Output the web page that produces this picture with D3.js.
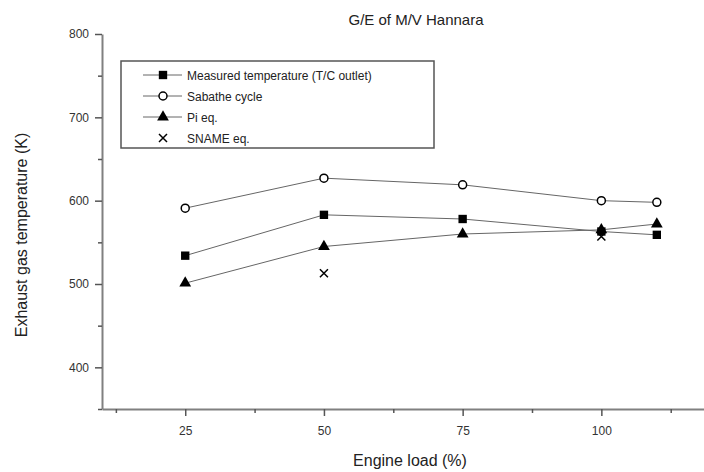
<!DOCTYPE html>
<html>
<head>
<meta charset="utf-8">
<script src="https://cdn.jsdelivr.net/npm/d3@7"></script>
<style>
  html, body { margin: 0; padding: 0; background: #fff; }
  svg { display: block; font-family: "Liberation Sans", Arial, sans-serif; }
</style>
</head>
<body>
<svg id="chart" width="704" height="472"></svg>
<script>
// Engine load (%) at which each method was evaluated
const loads = [25, 50, 75, 100, 110];
// Exhaust gas temperature (K)
const measured = [534, 583, 578, 563, 559];
const sabathe  = [591, 627, 619, 600, 598];
const piEq     = [501, 545, 560, 565, 572];
// SNAME eq. available at two loads only
const snameLoads = [50, 100];
const sname      = [513, 557];

const xMajorTicks = [25, 50, 75, 100];
const xMinorTicks = [12.5, 37.5, 62.5, 87.5, 112.5];
const yMajorTicks = [400, 500, 600, 700, 800];
const yMinorTicks = [350, 450, 550, 650, 750];

const svg = d3.select("#chart");
const x = d3.scaleLinear().domain([10, 118.5]).range([102, 704]);
const y = d3.scaleLinear().domain([350, 800]).range([409, 34]);

const axisColor = "#808080";

// Title
svg.append("text").attr("x", 416).attr("y", 25).attr("text-anchor", "middle")
  .attr("font-size", 15).attr("fill", "#222").text("G/E of M/V Hannara");

// X axis
const gx = svg.append("g").attr("transform", `translate(0,${y(350)})`);
gx.call(d3.axisBottom(x).tickValues(xMajorTicks).tickSize(7).tickPadding(10).tickSizeOuter(0));
gx.append("g").call(d3.axisBottom(x).tickValues(xMinorTicks).tickSize(4).tickFormat("").tickSizeOuter(0));
gx.selectAll(".domain").attr("stroke", axisColor).attr("stroke-width", 2);
gx.selectAll("g .domain").filter((d, i, n) => n[i].parentNode !== gx.node()).remove();
gx.selectAll(".tick line").attr("stroke", "#555").attr("stroke-width", 1.5);
gx.selectAll(".tick text").attr("font-size", 12).attr("fill", "#333")
  .attr("font-family", "\"Liberation Sans\", Arial, sans-serif");

// Y axis
const gy = svg.append("g").attr("transform", `translate(${x(10)},0)`);
gy.call(d3.axisLeft(y).tickValues(yMajorTicks).tickSize(7).tickPadding(6).tickSizeOuter(0));
gy.append("g").call(d3.axisLeft(y).tickValues(yMinorTicks).tickSize(4).tickFormat("").tickSizeOuter(0));
gy.selectAll(".domain").attr("stroke", axisColor).attr("stroke-width", 2);
gy.selectAll("g .domain").filter((d, i, n) => n[i].parentNode !== gy.node()).remove();
gy.selectAll(".tick line").attr("stroke", "#555").attr("stroke-width", 1.5);
gy.selectAll(".tick text").attr("font-size", 12).attr("fill", "#333")
  .attr("font-family", "\"Liberation Sans\", Arial, sans-serif");

// Axis titles
svg.append("text").attr("x", 410).attr("y", 466).attr("text-anchor", "middle")
  .attr("font-size", 16).attr("fill", "#222").text("Engine load (%)");
svg.append("text").attr("transform", "translate(27,235) rotate(-90)").attr("text-anchor", "middle")
  .attr("font-size", 16).attr("fill", "#222").text("Exhaust gas temperature (K)");

// Series lines
const line = d3.line().x(d => x(d[0])).y(d => y(d[1]));
[measured, sabathe, piEq].forEach(vals => {
  svg.append("path").datum(loads.map((l, i) => [l, vals[i]]))
    .attr("d", line).attr("fill", "none").attr("stroke", "#666").attr("stroke-width", 1);
});

// Markers
const sq = d3.symbol().type(d3.symbolSquare).size(70);
const tri = d3.symbol().type(d3.symbolTriangle).size(60);
const circ = d3.symbol().type(d3.symbolCircle).size(50);
const cross = d3.symbol().type(d3.symbolX).size(70);

function markers(xs, vals, gen, fill, stroke, sw) {
  svg.append("g").selectAll("path").data(xs.map((l, i) => [l, vals[i]])).join("path")
    .attr("transform", d => `translate(${x(d[0])},${y(d[1])})`)
    .attr("d", gen).attr("fill", fill).attr("stroke", stroke).attr("stroke-width", sw);
}
markers(loads, sabathe, circ, "#fff", "#000", 1.5);
markers(loads, piEq, tri, "#000", "none", 0);
markers(loads, measured, sq, "#000", "none", 0);
markers(snameLoads, sname, d3.symbol().type(d3.symbolCross).size(0), "none", "none", 0);
svg.append("g").selectAll("path").data(snameLoads.map((l, i) => [l, sname[i]])).join("path")
  .attr("transform", d => `translate(${x(d[0])},${y(d[1])})`)
  .attr("d", "M-4,-4L4,4M-4,4L4,-4").attr("fill", "none").attr("stroke", "#000").attr("stroke-width", 1.5);

// Legend
const legend = svg.append("g");
legend.append("rect").attr("x", 121).attr("y", 61).attr("width", 313).attr("height", 87)
  .attr("fill", "#fff").attr("stroke", "#555").attr("stroke-width", 1.5);
const legendItems = [
  { label: "Measured temperature (T/C outlet)", gen: sq, fill: "#000", stroke: "none", line: true },
  { label: "Sabathe cycle", gen: circ, fill: "#fff", stroke: "#000", line: true },
  { label: "Pi eq.", gen: tri, fill: "#000", stroke: "none", line: true },
  { label: "SNAME eq.", gen: null, line: false }
];
legendItems.forEach((it, i) => {
  const cy = 75 + i * 21;
  if (it.line) {
    legend.append("line").attr("x1", 143).attr("x2", 182).attr("y1", cy).attr("y2", cy)
      .attr("stroke", "#666").attr("stroke-width", 1);
  }
  if (it.gen) {
    legend.append("path").attr("transform", `translate(163,${cy})`).attr("d", it.gen)
      .attr("fill", it.fill).attr("stroke", it.stroke).attr("stroke-width", 1.5);
  } else {
    legend.append("path").attr("transform", `translate(163,${cy})`)
      .attr("d", "M-4,-4L4,4M-4,4L4,-4").attr("stroke", "#000").attr("stroke-width", 1.5);
  }
  legend.append("text").attr("x", 187).attr("y", cy + 4.5).attr("font-size", 12)
    .attr("fill", "#222").text(it.label);
});
</script>
</body>
</html>
